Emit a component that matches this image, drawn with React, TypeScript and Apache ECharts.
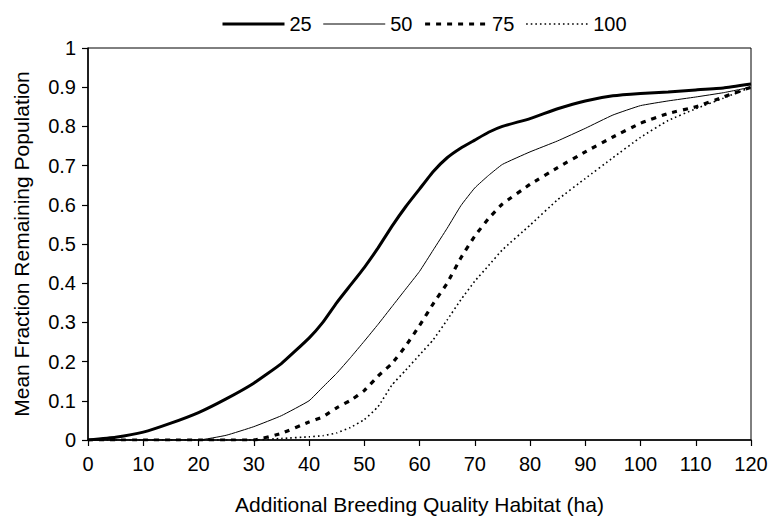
import React, { useEffect, useRef } from "react";
import * as echarts from "echarts";

const xs = [0, 5, 10, 15, 20, 25, 30, 35, 40, 42.5, 45, 47.5, 50, 52.5, 55, 57.5, 60, 62.5, 65, 67.5, 70, 72.5, 75, 80, 85, 90, 95, 100, 105, 110, 115, 120];
const s25 = [0, 0.007, 0.02, 0.043, 0.07, 0.105, 0.145, 0.195, 0.26, 0.3, 0.35, 0.395, 0.44, 0.49, 0.545, 0.595, 0.64, 0.685, 0.72, 0.745, 0.765, 0.785, 0.8, 0.82, 0.845, 0.865, 0.878, 0.884, 0.888, 0.893, 0.898, 0.908];
const s50 = [0, 0, 0, 0, 0, 0.012, 0.034, 0.062, 0.1, 0.135, 0.17, 0.21, 0.252, 0.295, 0.34, 0.385, 0.43, 0.485, 0.54, 0.598, 0.643, 0.675, 0.703, 0.735, 0.763, 0.795, 0.829, 0.853, 0.865, 0.875, 0.886, 0.9];
const s75 = [0, 0, 0, 0, 0, 0, 0, 0.017, 0.046, 0.059, 0.082, 0.101, 0.126, 0.163, 0.195, 0.24, 0.292, 0.348, 0.4, 0.465, 0.52, 0.565, 0.602, 0.652, 0.695, 0.735, 0.773, 0.808, 0.833, 0.85, 0.875, 0.9];
const s100 = [0, 0, 0, 0, 0, 0, 0, 0.004, 0.008, 0.011, 0.018, 0.032, 0.052, 0.085, 0.14, 0.178, 0.217, 0.256, 0.306, 0.358, 0.405, 0.445, 0.485, 0.548, 0.613, 0.667, 0.72, 0.772, 0.815, 0.845, 0.872, 0.9];
const seriesNames = ["25", "50", "75", "100"];

const FONT = "'Liberation Sans', Arial, sans-serif";

export default function App() {
  const ref = useRef<HTMLDivElement>(null);
  useEffect(() => {
    if (!ref.current) return;
    const chart = echarts.init(ref.current, null, { renderer: "svg" });
    const pairs = (ys: number[]) => xs.map((x, i) => [x, ys[i]]);
    const styles: any[] = [
      { width: 3, type: "solid" },
      { width: 1, type: "solid" },
      { width: 3.2, type: [5, 6] },
      { width: 1.6, type: [1.6, 3] },
    ];
    const data = [s25, s50, s75, s100];
    chart.setOption({
      animation: false,
      backgroundColor: "#fff",
      textStyle: { fontFamily: FONT, color: "#000" },
      legend: {
        left: 216,
        top: 9,
        itemWidth: 62,
        itemHeight: 12,
        itemGap: 11,
        itemStyle: { color: "transparent", borderColor: "transparent", borderWidth: 0, opacity: 0 },
        textStyle: { fontSize: 20, color: "#000", fontFamily: FONT },
        data: seriesNames.map((n, i) => ({
          name: n,
          lineStyle: { color: "#000", width: styles[i].width, type: styles[i].type },
        })),
      },
      grid: {
        left: 88,
        right: 20,
        top: 48,
        bottom: 75,
        show: true,
        borderColor: "#000",
        borderWidth: 1,
      },
      xAxis: {
        type: "value",
        min: 0,
        max: 120,
        interval: 10,
        name: "Additional Breeding Quality Habitat (ha)",
        nameLocation: "middle",
        nameGap: 54,
        nameTextStyle: { fontSize: 21, color: "#000", fontFamily: FONT },
        axisLine: { show: true, lineStyle: { color: "#000", width: 1.5 } },
        axisTick: { show: true, inside: false, length: 6, lineStyle: { color: "#000", width: 1.2 } },
        axisLabel: { fontSize: 20, color: "#000", margin: 14, fontFamily: FONT },
        splitLine: { show: false },
      },
      yAxis: {
        type: "value",
        min: 0,
        max: 1,
        interval: 0.1,
        name: "Mean Fraction Remaining Population",
        nameLocation: "middle",
        nameGap: 56,
        nameTextStyle: { fontSize: 21, color: "#000", fontFamily: FONT },
        axisLine: { show: true, lineStyle: { color: "#000", width: 1.5 } },
        axisTick: { show: true, inside: false, length: 6, lineStyle: { color: "#000", width: 1.2 } },
        axisLabel: { fontSize: 20, color: "#000", margin: 12, fontFamily: FONT },
        splitLine: { show: false },
      },
      series: seriesNames.map((n, i) => ({
        name: n,
        type: "line",
        data: pairs(data[i]),
        symbol: "none",
        showSymbol: false,
        smooth: 0.12,
        color: "#000",
        lineStyle: { color: "#000", ...styles[i] },
      })),
    });
    return () => chart.dispose();
  }, []);
  return (
    <div
      ref={ref}
      style={{ position: "absolute", left: 0, top: 0, width: 771, height: 520 }}
    />
  );
}
